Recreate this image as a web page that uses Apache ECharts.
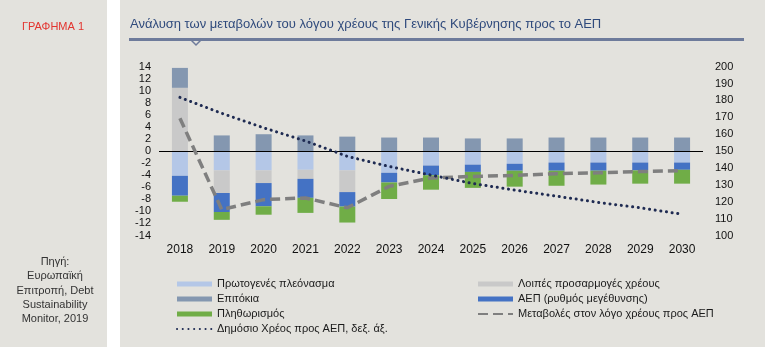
<!DOCTYPE html>
<html>
<head>
<meta charset="utf-8">
<script src="https://cdn.jsdelivr.net/npm/echarts@6/dist/echarts.min.js"></script>
<style>
html,body{margin:0;padding:0;background:#ffffff;}
#chart{width:765px;height:351px;}
</style>
</head>
<body>
<div id="chart"></div>
<script>
// ---- Data ----
var categories = ['2018','2019','2020','2021','2022','2023','2024','2025','2026','2027','2028','2029','2030'];
var primarySurplus = [-4.1, -3.2, -3.2, -3.1, -3.2, -3.6, -2.4, -2.25, -2.1, -1.9, -1.9, -1.9, -1.9];
var otherAdjust    = [10.5, -3.75, -2.1, -1.5, -3.6, 0, 0, 0, 0, 0, 0, 0, 0];
var interest       = [3.3, 2.6, 2.8, 2.6, 2.4, 2.25, 2.25, 2.1, 2.1, 2.25, 2.25, 2.25, 2.25];
var gdpGrowth      = [-3.3, -3.15, -3.85, -3.15, -2.4, -1.6, -1.6, -1.2, -1.15, -1.35, -1.35, -1.3, -1.2];
var inflation      = [-1.0, -1.3, -1.4, -2.5, -2.65, -2.75, -2.4, -2.65, -2.65, -2.5, -2.3, -2.2, -2.3];
var debtChange     = [5.45, -9.7, -8.05, -7.77, -9.4, -5.85, -4.46, -4.2, -4.03, -3.75, -3.6, -3.4, -3.25];
var debtRatio      = [181.8, 172.4, 163.8, 156.0, 146.9, 140.9, 135.8, 130.8, 126.9, 123.3, 119.6, 116.4, 112.6];
var leftTicks  = {min: -14, max: 14, interval: 2};
var rightTicks = {min: 100, max: 200, interval: 10};

var names = {
  primary: 'Πρωτογενές πλεόνασμα',
  other: 'Λοιπές προσαρμογές χρέους',
  interest: 'Επιτόκια',
  gdp: 'ΑΕΠ (ρυθμός μεγέθυνσης)',
  inflation: 'Πληθωρισμός',
  change: 'Μεταβολές στον λόγο χρέους προς ΑΕΠ',
  debt: 'Δημόσιο Χρέος προς ΑΕΠ, δεξ. άξ.'
};

var FONT = 'Liberation Sans, Arial, sans-serif';
var panel = '#e3e2dd';

var chart = echarts.init(document.getElementById('chart'), null, {renderer: 'canvas'});

function bar(name, data, color) {
  return {
    name: name, type: 'bar', stack: 'total', data: data,
    barWidth: 16, itemStyle: {color: color}, z: 2
  };
}

var barPrimary = bar(names.primary, primarySurplus, '#b4c7e7');
barPrimary.markLine = {
  silent: true, symbol: 'none', label: {show: false},
  lineStyle: {color: '#000000', width: 1, type: 'solid'},
  data: [{yAxis: 0}], z: 3
};

var legendText = {fontFamily: FONT, fontSize: 11, color: '#1a1a1a', lineHeight: 13};
var hiddenSymbol = {opacity: 0};

var option = {
  backgroundColor: '#ffffff',
  animation: false,
  textStyle: {fontFamily: FONT},
  graphic: [
    {type: 'rect', z: -10, shape: {x: 0, y: 0, width: 107, height: 347}, style: {fill: panel}},
    {type: 'rect', z: -10, shape: {x: 120, y: 0, width: 645, height: 347}, style: {fill: panel}},
    {type: 'text', z: 5, x: 53, y: 27, style: {text: 'ΓΡΑΦΗΜΑ 1', fill: '#e3342f', font: '11px ' + FONT, textAlign: 'center', textVerticalAlign: 'middle'}},
    {type: 'text', z: 5, x: 130, y: 24, style: {text: 'Ανάλυση των μεταβολών του λόγου χρέους της Γενικής Κυβέρνησης προς το ΑΕΠ', fill: '#2f4a7c', font: '13px ' + FONT, textVerticalAlign: 'middle'}},
    {type: 'line', z: 5, shape: {x1: 129, y1: 39.5, x2: 744, y2: 39.5}, style: {stroke: '#6e7b9b', lineWidth: 3}},
    {type: 'polyline', z: 5, shape: {points: [[191, 40], [196, 45], [201, 40]]}, style: {stroke: '#6e7b9b', lineWidth: 1.5, fill: null}},
    {type: 'text', z: 5, x: 55, y: 255, style: {text: 'Πηγή:\nΕυρωπαϊκή\nΕπιτροπή, Debt\nSustainability\nMonitor, 2019', fill: '#333333', font: '11px ' + FONT, textAlign: 'center', textVerticalAlign: 'top', lineHeight: 14.2}}
  ],
  grid: {left: 159, right: 62, top: 66.7, bottom: 115.5, containLabel: false},
  legend: [
    {
      left: 176, top: 277.5, orient: 'vertical', itemWidth: 35, itemHeight: 5, itemGap: 2, padding: 0,
      textStyle: legendText,
      data: [
        {name: names.primary, icon: 'rect'},
        {name: names.interest, icon: 'rect'},
        {name: names.inflation, icon: 'rect'},
        {name: names.debt, itemStyle: hiddenSymbol}
      ]
    },
    {
      left: 477, top: 277.5, orient: 'vertical', itemWidth: 35, itemHeight: 5, itemGap: 2, padding: 0,
      textStyle: legendText,
      data: [
        {name: names.other, icon: 'rect'},
        {name: names.gdp, icon: 'rect'},
        {name: names.change, itemStyle: hiddenSymbol}
      ]
    }
  ],
  xAxis: {
    type: 'category', data: categories, boundaryGap: true,
    axisLine: {show: false}, axisTick: {show: false},
    axisLabel: {color: '#111111', fontSize: 12, margin: 8, fontFamily: FONT}
  },
  yAxis: [
    {
      type: 'value', min: leftTicks.min, max: leftTicks.max, interval: leftTicks.interval,
      axisLine: {show: false}, axisTick: {show: false}, splitLine: {show: false},
      axisLabel: {color: '#111111', fontSize: 11, margin: 8, fontFamily: FONT}
    },
    {
      type: 'value', min: rightTicks.min, max: rightTicks.max, interval: rightTicks.interval,
      position: 'right',
      axisLine: {show: false}, axisTick: {show: false}, splitLine: {show: false},
      axisLabel: {color: '#111111', fontSize: 11, margin: 12, fontFamily: FONT}
    }
  ],
  series: [
    barPrimary,
    bar(names.other, otherAdjust, '#c9c9c9'),
    bar(names.interest, interest, '#8497b0'),
    bar(names.gdp, gdpGrowth, '#4472c4'),
    bar(names.inflation, inflation, '#70ad47'),
    {
      name: names.change, type: 'line', data: debtChange, yAxisIndex: 0,
      symbol: 'none', showSymbol: false, smooth: false, z: 4,
      lineStyle: {color: '#7f7f7f', width: 3.5, type: [10, 5]},
      itemStyle: {color: '#7f7f7f'}
    },
    {
      name: names.debt, type: 'line', data: debtRatio, yAxisIndex: 1,
      symbol: 'none', showSymbol: false, smooth: false, z: 4,
      lineStyle: {color: '#1f2b52', width: 3, type: [0.1, 5.6], cap: 'round'},
      itemStyle: {color: '#1f2b52'}
    }
  ]
};

chart.setOption(option);
</script>
</body>
</html>
